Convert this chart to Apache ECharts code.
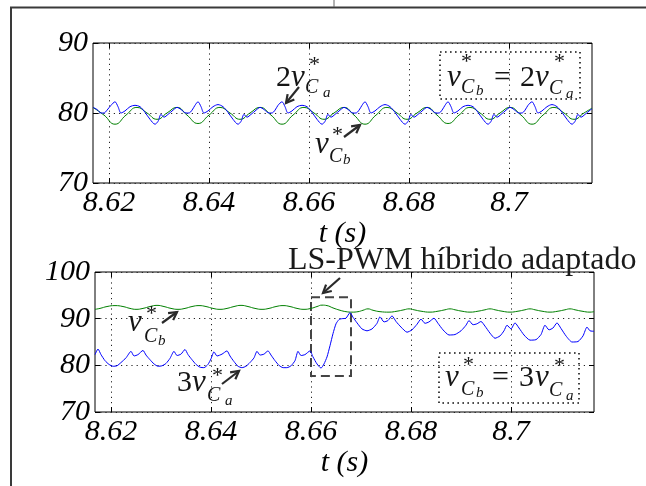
<!DOCTYPE html>
<html>
<head>
<meta charset="utf-8">
<script src="https://cdn.jsdelivr.net/npm/echarts@6/dist/echarts.min.js"></script>
<style>html,body{margin:0;padding:0;background:#fff}#c{width:646px;height:486px}</style>
</head>
<body>
<div id="c"></div>
<script>
// ---------- DATA ----------
const xTicks = [8.62, 8.64, 8.66, 8.68, 8.70];
const tRange = [8.6168, 8.7166];
const topYRange = [70, 90];
const botYRange = [70, 100];

// top panel: 2 v*_Ca (blue) and v*_Cb (green)
const topBlue = [[8.6168,80.8],[8.6176,80.5],[8.6184,80.0],[8.6190,80.0],[8.6196,80.4],[8.6204,81.1],[8.6212,81.6],[8.6218,80.9],[8.6224,80.0],[8.6232,80.3],[8.6242,80.9],[8.6252,81.1],[8.6262,80.9],[8.6272,80.1],[8.6282,79.1],[8.6292,78.4],[8.6298,78.8],[8.6304,79.8],[8.6310,79.4],[8.6318,79.8],[8.6328,80.4],[8.6336,80.8],[8.6344,80.5],[8.6354,80.0],[8.6360,80.0],[8.6366,80.4],[8.6372,81.1],[8.6378,81.6],[8.6384,80.9],[8.6390,80.0],[8.6398,80.3],[8.6408,80.9],[8.6418,81.2],[8.6428,80.9],[8.6438,80.1],[8.6448,79.1],[8.6458,78.4],[8.6464,78.8],[8.6470,79.8],[8.6476,79.4],[8.6484,79.8],[8.6494,80.4],[8.6502,80.8],[8.6510,80.5],[8.6520,80.0],[8.6526,80.0],[8.6532,80.4],[8.6538,81.1],[8.6546,81.6],[8.6552,80.9],[8.6558,80.0],[8.6566,80.3],[8.6576,80.9],[8.6586,81.1],[8.6596,80.9],[8.6606,80.1],[8.6616,79.1],[8.6626,78.4],[8.6632,78.8],[8.6638,79.8],[8.6644,79.4],[8.6652,79.8],[8.6662,80.4],[8.6670,80.8],[8.6678,80.5],[8.6688,80.0],[8.6694,80.0],[8.6700,80.4],[8.6706,81.1],[8.6712,81.6],[8.6718,80.9],[8.6724,80.0],[8.6732,80.3],[8.6742,80.9],[8.6752,81.2],[8.6762,80.9],[8.6772,80.1],[8.6782,79.1],[8.6792,78.4],[8.6798,78.8],[8.6804,79.8],[8.6810,79.4],[8.6818,79.8],[8.6828,80.4],[8.6836,80.8],[8.6844,80.5],[8.6854,80.0],[8.6860,80.0],[8.6866,80.4],[8.6872,81.1],[8.6878,81.6],[8.6884,80.9],[8.6890,80.0],[8.6898,80.3],[8.6908,80.9],[8.6918,81.1],[8.6928,80.9],[8.6938,80.1],[8.6948,79.1],[8.6958,78.4],[8.6964,78.8],[8.6970,79.8],[8.6976,79.4],[8.6984,79.8],[8.6994,80.4],[8.7002,80.8],[8.7010,80.5],[8.7020,80.0],[8.7026,80.0],[8.7032,80.4],[8.7038,81.1],[8.7046,81.6],[8.7052,80.9],[8.7058,80.0],[8.7066,80.3],[8.7076,80.9],[8.7086,81.2],[8.7096,80.9],[8.7106,80.1],[8.7116,79.1],[8.7126,78.4],[8.7132,78.8],[8.7138,79.8],[8.7144,79.4],[8.7152,79.8],[8.7162,80.4],[8.7166,80.6]];
const topGreen = [[8.6168,80.8],[8.6190,79.7],[8.6212,78.4],[8.6234,79.7],[8.6256,80.8],[8.6276,80.0],[8.6296,79.1],[8.6316,80.0],[8.6336,80.8],[8.6356,79.7],[8.6378,78.5],[8.6400,79.7],[8.6422,80.8],[8.6442,80.0],[8.6462,79.1],[8.6482,80.0],[8.6502,80.8],[8.6524,79.7],[8.6546,78.4],[8.6568,79.7],[8.6590,80.8],[8.6610,80.0],[8.6630,79.1],[8.6650,80.0],[8.6670,80.8],[8.6690,79.7],[8.6712,78.4],[8.6734,79.7],[8.6756,80.8],[8.6776,80.0],[8.6796,79.1],[8.6816,80.0],[8.6836,80.8],[8.6856,79.7],[8.6878,78.5],[8.6900,79.7],[8.6922,80.8],[8.6942,80.0],[8.6962,79.1],[8.6982,80.0],[8.7002,80.8],[8.7024,79.7],[8.7046,78.4],[8.7068,79.7],[8.7090,80.8],[8.7110,80.0],[8.7130,79.1],[8.7150,80.0],[8.7166,80.7]];

// bottom panel: 3 v*_Ca (blue) and v*_Cb (green)
const botBlue = [[8.6168,82.3],[8.6174,83.5],[8.6180,82.3],[8.6188,81.0],[8.6196,80.2],[8.6204,79.8],[8.6212,79.9],[8.6220,80.6],[8.6230,81.6],[8.6240,83.0],[8.6246,82.0],[8.6254,82.3],[8.6264,83.2],[8.6270,82.2],[8.6278,81.2],[8.6286,80.3],[8.6294,79.8],[8.6302,79.9],[8.6310,80.4],[8.6318,81.5],[8.6326,83.0],[8.6332,82.1],[8.6340,82.4],[8.6348,83.4],[8.6354,82.3],[8.6362,81.2],[8.6370,80.2],[8.6378,79.6],[8.6386,79.5],[8.6394,80.2],[8.6400,81.4],[8.6406,82.9],[8.6412,82.0],[8.6422,82.4],[8.6432,83.1],[8.6438,82.0],[8.6446,80.8],[8.6454,79.8],[8.6462,79.5],[8.6470,79.8],[8.6478,80.6],[8.6486,81.6],[8.6492,83.0],[8.6498,82.2],[8.6506,82.4],[8.6514,83.1],[8.6520,82.2],[8.6528,81.0],[8.6536,80.0],[8.6544,79.5],[8.6552,79.5],[8.6560,79.9],[8.6568,81.0],[8.6574,83.0],[8.6580,82.1],[8.6588,82.3],[8.6598,83.1],[8.6604,81.8],[8.6612,80.3],[8.6620,79.4],[8.6626,80.3],[8.6632,81.8],[8.6638,84.2],[8.6644,86.8],[8.6650,88.9],[8.6656,89.8],[8.6662,90.0],[8.6670,90.1],[8.6678,91.3],[8.6684,90.3],[8.6692,89.1],[8.6702,87.8],[8.6712,87.4],[8.6722,87.8],[8.6732,89.0],[8.6738,90.4],[8.6746,89.3],[8.6754,89.6],[8.6762,90.6],[8.6770,89.4],[8.6780,88.2],[8.6792,87.1],[8.6802,87.6],[8.6812,88.8],[8.6820,89.9],[8.6828,89.0],[8.6836,89.3],[8.6846,90.1],[8.6854,89.0],[8.6864,87.6],[8.6876,86.5],[8.6888,86.6],[8.6900,87.4],[8.6910,88.6],[8.6916,89.6],[8.6924,88.7],[8.6932,88.9],[8.6940,89.4],[8.6948,88.4],[8.6958,86.9],[8.6968,85.8],[8.6978,86.3],[8.6986,87.4],[8.6992,88.6],[8.7000,87.8],[8.7008,89.1],[8.7016,88.0],[8.7026,86.5],[8.7038,85.4],[8.7050,85.5],[8.7060,86.6],[8.7068,88.6],[8.7076,87.6],[8.7084,88.0],[8.7092,89.1],[8.7100,87.9],[8.7110,86.3],[8.7122,85.0],[8.7134,85.1],[8.7144,86.3],[8.7152,88.2],[8.7158,87.4],[8.7166,87.3]];
const botGreen = [[8.6168,92.0],[8.6178,92.2],[8.6192,92.6],[8.6208,92.8],[8.6224,92.6],[8.6238,92.2],[8.6250,92.0],[8.6264,92.2],[8.6278,92.6],[8.6292,92.85],[8.6306,92.6],[8.6320,92.2],[8.6334,92.0],[8.6348,92.2],[8.6362,92.6],[8.6376,92.8],[8.6390,92.6],[8.6404,92.2],[8.6418,92.0],[8.6432,92.2],[8.6446,92.6],[8.6460,92.85],[8.6474,92.6],[8.6488,92.2],[8.6502,92.0],[8.6516,92.2],[8.6530,92.6],[8.6544,92.8],[8.6558,92.6],[8.6572,92.2],[8.6586,92.0],[8.6600,92.2],[8.6612,92.6],[8.6622,92.9],[8.6632,92.8],[8.6644,92.3],[8.6658,91.8],[8.6670,91.5],[8.6682,91.4],[8.6694,91.5],[8.6704,91.8],[8.6714,92.1],[8.6724,91.8],[8.6738,91.5],[8.6756,91.4],[8.6772,91.6],[8.6786,91.9],[8.6796,92.1],[8.6806,91.9],[8.6820,91.6],[8.6838,91.4],[8.6854,91.6],[8.6868,91.9],[8.6878,92.1],[8.6888,91.9],[8.6902,91.6],[8.6918,91.4],[8.6934,91.6],[8.6948,91.9],[8.6958,92.1],[8.6968,91.9],[8.6982,91.6],[8.6998,91.4],[8.7014,91.6],[8.7028,91.9],[8.7038,92.1],[8.7048,91.9],[8.7062,91.6],[8.7078,91.4],[8.7094,91.6],[8.7108,91.9],[8.7118,92.1],[8.7128,91.9],[8.7142,91.6],[8.7158,91.4],[8.7166,91.5]];

// highlighted transition window (bottom panel)
const boxT = [8.6600, 8.6680];
const boxV = [77.7, 94.6];

// ---------- CHART ----------
const SERIF = '"Liberation Serif", "Times New Roman", serif';
const chart = echarts.init(document.getElementById('c'), null, {renderer: 'canvas'});
const fmt = v => String(parseFloat(Number(v).toFixed(2)));
const gridLine = {show: true, lineStyle: {color: '#222', width: 1, type: [1.2, 4]}};
const labelStyle = {fontFamily: SERIF, fontStyle: 'italic', fontSize: 30, color: '#000'};

function xMain(gi) {
  return {
    gridIndex: gi, type: 'value', min: tRange[0], max: tRange[1], splitNumber: 5,
    axisLine: {show: false},
    axisTick: {show: true, inside: true, length: 5, customValues: xTicks, lineStyle: {color: '#000'}},
    axisLabel: Object.assign({customValues: xTicks, formatter: fmt, margin: 5}, labelStyle),
    splitLine: gridLine,
    name: 't (s)', nameLocation: 'middle', nameGap: 36,
    nameTextStyle: {fontFamily: SERIF, fontStyle: 'italic', fontSize: 30, color: '#000'}
  };
}
function xTop(gi) {
  return {
    gridIndex: gi, type: 'value', position: 'top', min: tRange[0], max: tRange[1],
    axisLine: {show: false}, axisLabel: {show: false}, splitLine: {show: false},
    axisTick: {show: true, inside: true, length: 5, customValues: xTicks, lineStyle: {color: '#000'}}
  };
}
function yMain(gi, r) {
  return {
    gridIndex: gi, type: 'value', min: r[0], max: r[1], interval: 10,
    axisLine: {show: false},
    axisTick: {show: true, inside: true, length: 5, lineStyle: {color: '#000'}},
    axisLabel: Object.assign({margin: 5}, labelStyle),
    splitLine: gridLine
  };
}
function yRight(gi, r) {
  return {
    gridIndex: gi, type: 'value', position: 'right', min: r[0], max: r[1], interval: 10,
    axisLine: {show: false}, axisLabel: {show: false}, splitLine: {show: false},
    axisTick: {show: true, inside: true, length: 5, lineStyle: {color: '#000'}}
  };
}
function line(xi, yi, data, color, smooth, extra) {
  return Object.assign({
    type: 'line', xAxisIndex: xi, yAxisIndex: yi, data: data, showSymbol: false,
    smooth: smooth, lineStyle: {color: color, width: 1}, itemStyle: {color: color},
    silent: true, animation: false, z: 3
  }, extra || {});
}

// ---------- annotation helpers (layout only) ----------
const INK = '#151515';
function T(x, base, s, size, italic) {
  return {type: 'text', x: x, y: base - 0.3375 * size, silent: true, z: 10,
    style: {text: s, fill: INK, align: 'left', verticalAlign: 'middle',
      font: (italic ? 'italic ' : '') + size + 'px ' + SERIF}};
}
function STAR(x, cy) { return {type: 'text', x: x, y: cy + 0.21 * 22, silent: true, z: 10,
  style: {text: '*', fill: INK, align: 'left', verticalAlign: 'middle', font: '22px ' + SERIF}}; }
function EQ(x, cy) { return {type: 'text', x: x, y: cy - 0.09 * 30, silent: true, z: 10,
  style: {text: '=', fill: INK, align: 'left', verticalAlign: 'middle', font: '30px ' + SERIF}}; }
function ARROW(x1, y1, x2, y2) {
  const a = Math.atan2(y2 - y1, x2 - x1), L = 9, w = 0.5;
  const p1 = [x2 - L * Math.cos(a - w), y2 - L * Math.sin(a - w)];
  const p2 = [x2 - L * Math.cos(a + w), y2 - L * Math.sin(a + w)];
  return [
    {type: 'line', silent: true, z: 10, shape: {x1: x1, y1: y1, x2: x2, y2: y2}, style: {stroke: '#2a2a2a', lineWidth: 2.2}},
    {type: 'polyline', silent: true, z: 10, shape: {points: [p1, [x2, y2], p2]}, style: {stroke: '#2a2a2a', lineWidth: 2.2, fill: null, lineJoin: 'miter'}}
  ];
}
function DBOX(x, y, w, h) {
  return {type: 'rect', silent: true, z: 9, shape: {x: x, y: y, width: w, height: h},
    style: {fill: null, stroke: '#111', lineWidth: 1.6, lineDash: [1.6, 3.4]}};
}

const graphics = [].concat(
  [{type: 'polyline', silent: true, z: 1, shape: {points: [[11, 486], [11, 7.5], [646, 7.5]]}, style: {stroke: '#3a3a3a', lineWidth: 2, fill: null}},
   {type: 'line', silent: true, z: 1, shape: {x1: 334, y1: 0, x2: 334, y2: 7}, style: {stroke: '#666', lineWidth: 1}}],
  // top: 2v*_Ca
  [T(276, 88, '2', 30, false), T(291, 88, 'v', 31, true), STAR(309, 61), T(305, 94, 'C', 20, true), T(323, 98, 'a', 15, true)],
  ARROW(299, 87, 286, 103),
  // top: v*_Cb
  [T(315, 155, 'v', 31, true), STAR(332, 131), T(329, 163, 'C', 20, true), T(343, 165, 'b', 15, true)],
  ARROW(344, 137, 360, 125),
  // top legend box
  [DBOX(440, 52, 140, 47), T(447, 88, 'v', 31, true), STAR(461, 57.5), T(461, 94, 'C', 20, true), T(476, 96, 'b', 15, true),
   EQ(494, 81), T(520, 88, '2', 30, false), T(535, 88, 'v', 31, true), STAR(554, 58), T(549, 95, 'C', 20, true), T(566, 99, 'a', 15, true)],
  // bottom: title
  [{type: 'text', x: 288, y: 271 - 0.3375 * 32, silent: true, z: 10,
    style: {text: 'LS-PWM híbrido adaptado', fill: '#1a1a1a', align: 'left', verticalAlign: 'middle', font: '32px ' + SERIF}}],
  ARROW(340, 278, 323, 293),
  // bottom: v*_Cb
  [T(128, 333, 'v', 31, true), STAR(146, 310), T(144, 343, 'C', 20, true), T(158, 346, 'b', 15, true)],
  ARROW(162, 323, 177, 312),
  // bottom: 3v*_Ca
  [T(177, 393, '3', 30, false), T(192, 393, 'v', 31, true), STAR(212, 372), T(207, 402, 'C', 20, true), T(225, 406, 'a', 15, true)],
  ARROW(222, 384, 239, 371),
  // bottom legend box
  [DBOX(439, 353, 140, 50), T(445, 388, 'v', 31, true), STAR(463, 361), T(461, 396, 'C', 20, true), T(476, 398, 'b', 15, true),
   EQ(492, 381), T(519, 388, '3', 30, false), T(535, 388, 'v', 31, true), STAR(554, 362), T(549, 397, 'C', 20, true), T(566, 401, 'a', 15, true)]
);

chart.setOption({
  animation: false,
  backgroundColor: '#fff',
  grid: [
    {left: 93, top: 43, width: 499, height: 140, show: true, borderColor: '#000', borderWidth: 1, backgroundColor: 'transparent'},
    {left: 95, top: 272, width: 499, height: 140, show: true, borderColor: '#000', borderWidth: 1, backgroundColor: 'transparent'}
  ],
  xAxis: [xMain(0), xMain(1), xTop(0), xTop(1)],
  yAxis: [yMain(0, topYRange), yMain(1, botYRange), yRight(0, topYRange), yRight(1, botYRange)],
  series: [
    line(0, 0, topGreen, '#008000', 0.5),
    line(0, 0, topBlue, '#0000ff', 0.3),
    line(1, 1, botGreen, '#008000', 0.5),
    line(1, 1, botBlue, '#0000ff', 0.2, {
      markArea: {silent: true, itemStyle: {color: 'rgba(0,0,0,0)', borderColor: '#444', borderWidth: 2, borderType: [9, 5]},
        data: [[{xAxis: boxT[0], yAxis: boxV[1]}, {xAxis: boxT[1], yAxis: boxV[0]}]]}
    })
  ],
  graphic: graphics
});
</script>
</body>
</html>
